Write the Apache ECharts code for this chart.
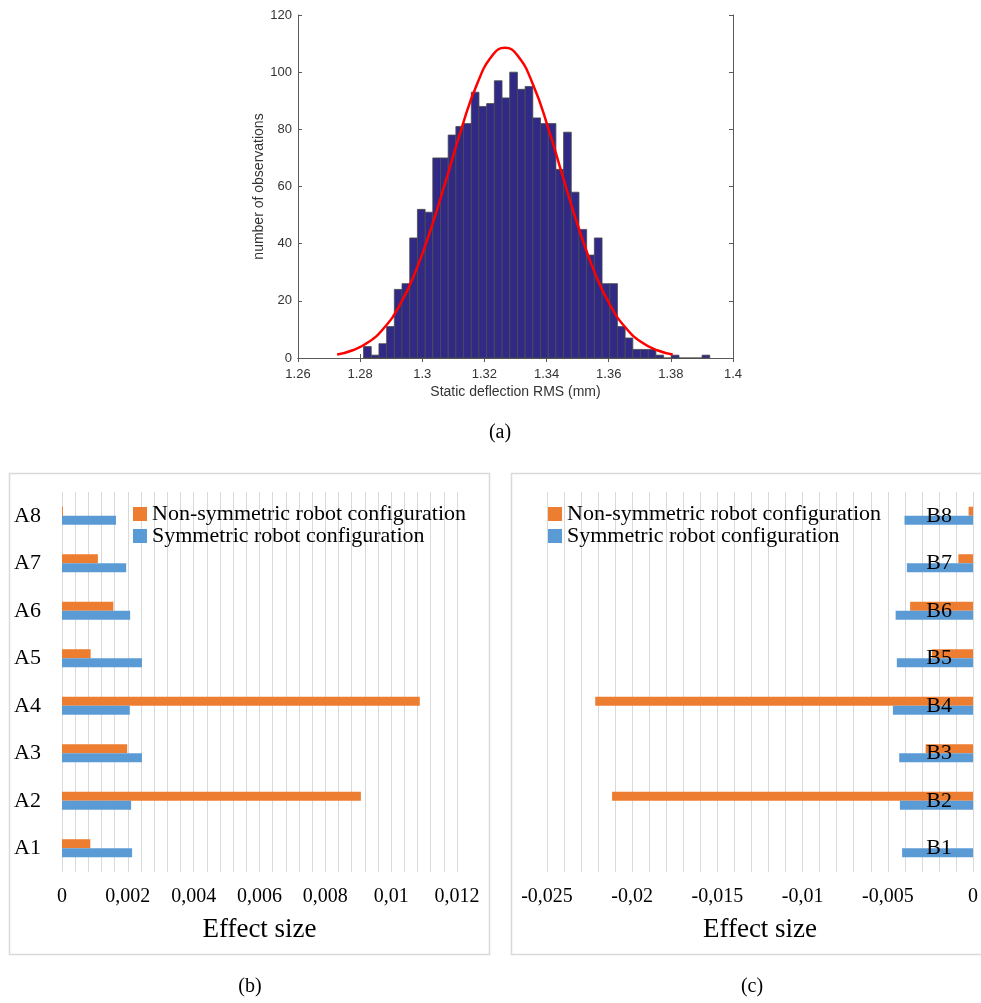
<!DOCTYPE html>
<html>
<head>
<meta charset="utf-8">
<script src="https://cdn.jsdelivr.net/npm/echarts@6/dist/echarts.min.js"></script>
<style>
html,body{margin:0;padding:0;background:#fff;}
#main{width:981px;height:1003px;}
</style>
</head>
<body>
<div id="main"></div>
<script>
// ---------- (a) histogram data ----------
const histBinStart = 1.2811;
const histBinWidth = 0.002476;
const histCounts = [4, 1, 5, 11, 24, 26, 42, 52, 51, 70,
  70, 78, 81, 82, 93, 88, 89, 97, 91, 100,
  94, 95, 84, 82, 82, 66, 79, 58, 45, 36,
  42, 26, 26, 11, 7, 3, 3, 3, 1, 0,
  1, 0, 0, 0, 1];
const fitX = [1.2726, 1.2776, 1.2826, 1.2876, 1.2926, 1.2976, 1.3026, 1.3076, 1.3126, 1.3176, 1.3226, 1.3266,
  1.3306, 1.3356, 1.3406, 1.3456, 1.3506, 1.3556, 1.3606, 1.3656, 1.3706, 1.3756, 1.3806];
const fitY = [1.2, 2.7, 5.5, 10.4, 18.2, 29.6, 44.6, 62.1, 80.2, 95.8, 105.9, 108.5,
  105.9, 95.8, 80.2, 62.1, 44.6, 29.6, 18.2, 10.4, 5.5, 2.7, 1.2];

// ---------- (b) ----------
const catsB = ['A1', 'A2', 'A3', 'A4', 'A5', 'A6', 'A7', 'A8'];
const nonSymB = [0.00086, 0.00908, 0.00198, 0.01087, 0.00087, 0.00156, 0.00109, 0.00003];
const symB = [0.00213, 0.00210, 0.00243, 0.00206, 0.00243, 0.00207, 0.00195, 0.00164];

// ---------- (c) ----------
const catsC = ['B1', 'B2', 'B3', 'B4', 'B5', 'B6', 'B7', 'B8'];
const nonSymC = [0, -0.02118, -0.00278, -0.02217, -0.00241, -0.00369, -0.00086, -0.00026];
const symC = [-0.00416, -0.00429, -0.00433, -0.00470, -0.00447, -0.00454, -0.00388, -0.00402];

const seriesNames = ['Non-symmetric robot configuration', 'Symmetric robot configuration'];
const captions = ['(a)', '(b)', '(c)'];

const histData = histCounts.map((c, i) => [histBinStart + i * histBinWidth, histBinStart + (i + 1) * histBinWidth, c]);
const fitData = fitX.map((x, i) => [x, fitY[i]]);

const serif = 'Liberation Serif';
const sans = 'Liberation Sans';
const matGray = '#5a5a5a';
const matText = '#333333';
const orange = '#ED7D31';
const blue = '#5B9BD5';
const gridGray = '#d9d9d9';

const commaFmt = v => String(+v.toFixed(4)).replace('.', ',');

const chart = echarts.init(document.getElementById('main'), null, {renderer: 'canvas'});

const option = {
  animation: false,
  backgroundColor: '#fff',
  grid: [
    {left: 298, right: 248, top: 15, bottom: 645},
    {left: 62, right: 524, top: 492, bottom: 131},
    {left: 547, right: 4, top: 492, bottom: 131}
  ],
  xAxis: [
    { // 0: hist bottom
      gridIndex: 0, type: 'value', min: 1.26, max: 1.4, interval: 0.02,
      name: 'Static deflection RMS (mm)', nameLocation: 'middle', nameGap: 27,
      nameTextStyle: {fontFamily: sans, fontSize: 14, color: matText},
      axisLine: {show: true, lineStyle: {color: matGray, width: 1}},
      axisTick: {show: true, inside: true, length: 4, lineStyle: {color: matGray}},
      axisLabel: {fontFamily: sans, fontSize: 13, color: matText, margin: 10, formatter: v => String(+v.toFixed(2))},
      splitLine: {show: false}
    },
    { // 1: hist top mirror
      gridIndex: 0, type: 'value', position: 'top', min: 1.26, max: 1.4, interval: 0.02,
      axisLine: {show: true, lineStyle: {color: matGray, width: 1}},
      axisTick: {show: true, inside: true, length: 4, lineStyle: {color: matGray}},
      axisLabel: {show: false}, splitLine: {show: false}
    },
    { // 2: (b)
      gridIndex: 1, type: 'value', min: 0, max: 0.012, interval: 0.002,
      name: 'Effect size', nameLocation: 'middle', nameGap: 44,
      nameTextStyle: {fontFamily: serif, fontSize: 27, color: '#000'},
      axisLine: {show: false}, axisTick: {show: false},
      minorTick: {show: false, splitNumber: 5},
      minorSplitLine: {show: true, lineStyle: {color: gridGray, width: 1}},
      splitLine: {show: true, lineStyle: {color: gridGray, width: 1}},
      axisLabel: {fontFamily: serif, fontSize: 20, color: '#000', margin: 15, formatter: commaFmt}
    },
    { // 3: (c)
      gridIndex: 2, type: 'value', min: -0.025, max: 0, interval: 0.005,
      name: 'Effect size', nameLocation: 'middle', nameGap: 44,
      nameTextStyle: {fontFamily: serif, fontSize: 27, color: '#000'},
      axisLine: {show: false}, axisTick: {show: false},
      minorTick: {show: false, splitNumber: 5},
      minorSplitLine: {show: true, lineStyle: {color: gridGray, width: 1}},
      splitLine: {show: true, lineStyle: {color: gridGray, width: 1}},
      axisLabel: {fontFamily: serif, fontSize: 20, color: '#000', margin: 15, formatter: commaFmt}
    }
  ],
  yAxis: [
    { // 0 hist left
      gridIndex: 0, type: 'value', min: 0, max: 120, interval: 20,
      name: 'number of observations', nameLocation: 'middle', nameGap: 23, nameRotate: 90,
      nameTextStyle: {fontFamily: sans, fontSize: 14, color: matText},
      axisLine: {show: true, lineStyle: {color: matGray, width: 1}},
      axisTick: {show: true, inside: true, length: 4, lineStyle: {color: matGray}},
      axisLabel: {fontFamily: sans, fontSize: 13, color: matText, margin: 6},
      splitLine: {show: false}
    },
    { // 1 hist right mirror
      gridIndex: 0, type: 'value', position: 'right', min: 0, max: 120, interval: 20,
      axisLine: {show: true, lineStyle: {color: matGray, width: 1}},
      axisTick: {show: true, inside: true, length: 4, lineStyle: {color: matGray}},
      axisLabel: {show: false}, splitLine: {show: false}
    },
    { // 2 (b)
      gridIndex: 1, type: 'category', data: catsB,
      axisLine: {show: false}, axisTick: {show: false},
      axisLabel: {fontFamily: serif, fontSize: 22, color: '#000', margin: 21}
    },
    { // 3 (c)
      gridIndex: 2, type: 'category', data: catsC, position: 'right', z: 10,
      axisLine: {show: false}, axisTick: {show: false},
      axisLabel: {inside: true, fontFamily: serif, fontSize: 22, color: '#000', margin: 21}
    }
  ],
  legend: [
    {
      left: 133, top: 503, orient: 'vertical', itemWidth: 14, itemHeight: 14, itemGap: 0, padding: 0,
      icon: 'rect', data: seriesNames, selectedMode: false,
      textStyle: {fontFamily: serif, fontSize: 22, color: '#000', lineHeight: 22}
    },
    {
      left: 548, top: 503, orient: 'vertical', itemWidth: 14, itemHeight: 14, itemGap: 0, padding: 0,
      icon: 'rect', data: seriesNames, selectedMode: false,
      textStyle: {fontFamily: serif, fontSize: 22, color: '#000', lineHeight: 22}
    }
  ],
  series: [
    {
      type: 'custom', xAxisIndex: 0, yAxisIndex: 0, data: histData,
      encode: {x: [0, 1], y: 2},
      renderItem: function (params, api) {
        const p0 = api.coord([api.value(0), api.value(2)]);
        const p1 = api.coord([api.value(1), 0]);
        return {
          type: 'rect',
          shape: {x: p0[0], y: p0[1], width: p1[0] - p0[0], height: p1[1] - p0[1]},
          style: {fill: '#302a86', stroke: '#4a4a4a', lineWidth: 0.8}
        };
      },
      z: 2
    },
    {
      type: 'line', xAxisIndex: 0, yAxisIndex: 0, data: fitData, smooth: true,
      showSymbol: false, symbol: 'none', lineStyle: {color: '#ff0000', width: 2.5}, z: 5
    },
    {
      name: seriesNames[0], type: 'bar', xAxisIndex: 2, yAxisIndex: 2, data: nonSymB,
      itemStyle: {color: orange}, barGap: '0%', barCategoryGap: '62%'
    },
    {
      name: seriesNames[1], type: 'bar', xAxisIndex: 2, yAxisIndex: 2, data: symB,
      itemStyle: {color: blue}, barGap: '0%', barCategoryGap: '62%'
    },
    {
      name: seriesNames[0], type: 'bar', xAxisIndex: 3, yAxisIndex: 3, data: nonSymC,
      itemStyle: {color: orange}, barGap: '0%', barCategoryGap: '62%'
    },
    {
      name: seriesNames[1], type: 'bar', xAxisIndex: 3, yAxisIndex: 3, data: symC,
      itemStyle: {color: blue}, barGap: '0%', barCategoryGap: '62%'
    }
  ],
  graphic: [
    {type: 'rect', shape: {x: 9.5, y: 473.5, width: 480, height: 481}, style: {fill: null, stroke: gridGray, lineWidth: 1.5}, silent: true, z: -1},
    {type: 'rect', shape: {x: 511.5, y: 473.5, width: 480, height: 481}, style: {fill: null, stroke: gridGray, lineWidth: 1.5}, silent: true, z: -1},
    {type: 'text', x: 500, y: 433, style: {text: captions[0], font: '20px "Liberation Serif"', fill: '#000', textAlign: 'center', textVerticalAlign: 'middle'}},
    {type: 'text', x: 250, y: 987, style: {text: captions[1], font: '20px "Liberation Serif"', fill: '#000', textAlign: 'center', textVerticalAlign: 'middle'}},
    {type: 'text', x: 752, y: 987, style: {text: captions[2], font: '20px "Liberation Serif"', fill: '#000', textAlign: 'center', textVerticalAlign: 'middle'}}
  ]
};
chart.setOption(option);
</script>
</body>
</html>
